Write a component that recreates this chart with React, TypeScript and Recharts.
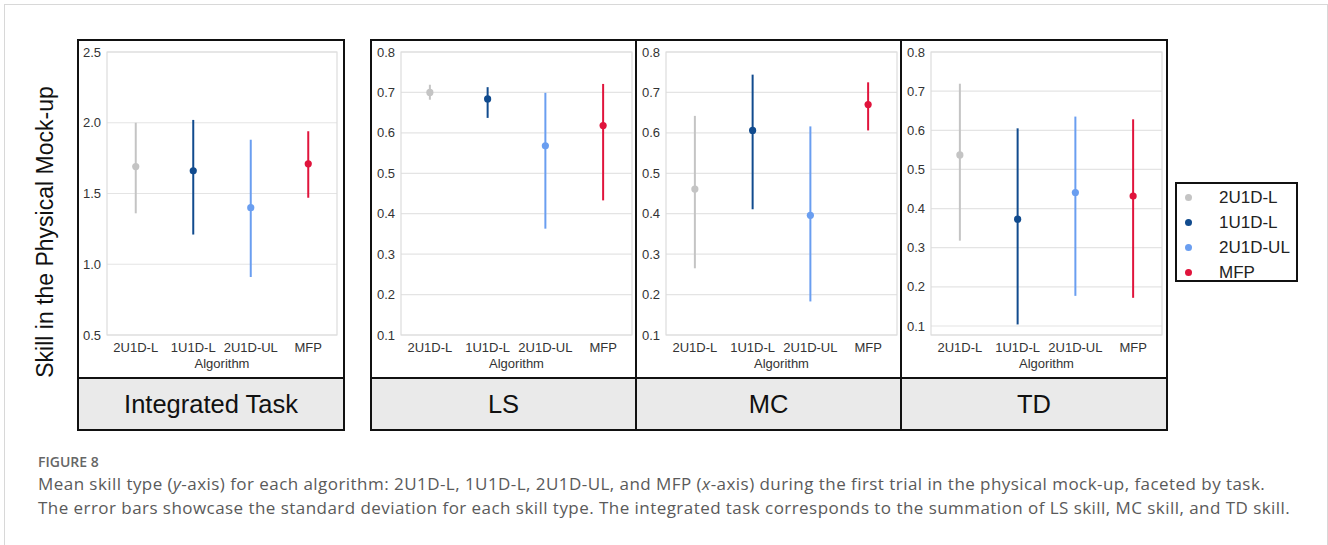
import { ComposedChart, Scatter, ErrorBar, XAxis, YAxis, CartesianGrid, ReferenceArea } from "recharts";

const algorithms = ["2U1D-L", "1U1D-L", "2U1D-UL", "MFP"];
const colors = ["#c4c4c4", "#114b8e", "#6a9ef0", "#e0143c"];

// Integrated task (sum of the three skills)
const integratedMean = [1.69, 1.66, 1.4, 1.71];
const integratedLow = [1.36, 1.21, 0.91, 1.47];
const integratedHigh = [2.0, 2.02, 1.88, 1.94];
const integratedTicks = [0.5, 1.0, 1.5, 2.0, 2.5];

// LS
const lsMean = [0.7, 0.684, 0.568, 0.618];
const lsLow = [0.682, 0.637, 0.363, 0.433];
const lsHigh = [0.719, 0.713, 0.699, 0.721];

// MC
const mcMean = [0.461, 0.606, 0.396, 0.67];
const mcLow = [0.265, 0.411, 0.183, 0.606];
const mcHigh = [0.642, 0.744, 0.616, 0.725];

// TD
const tdMean = [0.537, 0.373, 0.441, 0.432];
const tdLow = [0.318, 0.104, 0.177, 0.172];
const tdHigh = [0.719, 0.605, 0.635, 0.628];

const skillTicks = [0.1, 0.2, 0.3, 0.4, 0.5, 0.6, 0.7, 0.8];

const FONT = "'Liberation Sans', Arial, sans-serif";

interface FacetProps {
  mean: number[];
  low: number[];
  high: number[];
  domain: [number, number];
  ticks: number[];
  left: number;
  width: number;
  axisWidth: number;
  right: number;
}

function Facet({ mean, low, high, domain, ticks, left, width, axisWidth, right }: FacetProps) {
  return (
    <div style={{ position: "absolute", left, top: 40 }}>
      <ComposedChart width={width} height={338} margin={{ top: 12, right, bottom: 0, left: 0 }}>
        <CartesianGrid vertical={false} stroke="#e4e4e4" strokeWidth={1.2} />
        <ReferenceArea x1={-0.5} x2={3.5} y1={domain[0]} y2={domain[1]} fill="none" stroke="#dcdcdc" strokeWidth={1.2} />
        <XAxis
          type="number"
          dataKey="x"
          domain={[-0.5, 3.5]}
          ticks={[0, 1, 2, 3]}
          interval={0}
          tickFormatter={(v: number) => algorithms[v]}
          axisLine={false}
          tickLine={false}
          tickSize={5}
          tickMargin={3}
          height={43}
          tick={{ fontSize: 13, fill: "#333" }}
          label={{ value: "Algorithm", position: "insideBottom", offset: 10, fontSize: 13, fill: "#333" }}
        />
        <YAxis
          type="number"
          dataKey="y"
          domain={domain}
          ticks={ticks}
          interval={0}
          tickFormatter={(v: number) => v.toFixed(1)}
          axisLine={false}
          tickLine={false}
          tickSize={4}
          tickMargin={2}
          width={axisWidth}
          tick={{ fontSize: 13, fill: "#333" }}
        />
        {algorithms.map((a, i) => (
          <Scatter
            key={a}
            name={a}
            data={[{ x: i, y: mean[i], err: [mean[i] - low[i], high[i] - mean[i]] }]}
            fill={colors[i]}
            isAnimationActive={false}
            shape={(p: any) => <circle cx={p.cx} cy={p.cy} r={3.6} fill={colors[i]} />}
          >
            <ErrorBar dataKey="err" direction="y" width={0} stroke={colors[i]} strokeWidth={2} isAnimationActive={false} />
          </Scatter>
        ))}
      </ComposedChart>
    </div>
  );
}

const line = (s: React.CSSProperties): React.CSSProperties => ({ position: "absolute", background: "#111", ...s });

export default function App() {
  return (
    <div
      style={{
        position: "fixed",
        left: 0,
        top: 0,
        width: 1328,
        height: 545,
        overflow: "hidden",
        background: "#fff",
        fontFamily: FONT,
      }}
    >
      {/* outer figure frame */}
      <div style={{ position: "absolute", left: 4, top: 4, width: 1322, height: 600, border: "1px solid #d8d8d8" }} />

      {/* strips */}
      <div style={{ position: "absolute", left: 78, top: 378, width: 266, height: 52, background: "#eaeaea" }} />
      <div style={{ position: "absolute", left: 371, top: 378, width: 796, height: 52, background: "#eaeaea" }} />

      <Facet mean={integratedMean} low={integratedLow} high={integratedHigh} domain={[0.5, 2.5]} ticks={integratedTicks} left={78} width={266} axisWidth={29} right={7} />
      <Facet mean={lsMean} low={lsLow} high={lsHigh} domain={[0.1, 0.8]} ticks={skillTicks} left={371} width={265} axisWidth={30} right={4} />
      <Facet mean={mcMean} low={mcLow} high={mcHigh} domain={[0.1, 0.8]} ticks={skillTicks} left={636} width={265} axisWidth={30} right={4} />
      <Facet mean={tdMean} low={tdLow} high={tdHigh} domain={[0.077, 0.8]} ticks={skillTicks} left={901} width={266} axisWidth={30} right={5} />

      {/* panel borders */}
      <div style={{ position: "absolute", left: 77, top: 39, width: 264, height: 388, border: "2px solid #111" }} />
      <div style={line({ left: 77, top: 377, width: 268, height: 2 })} />
      <div style={{ position: "absolute", left: 370, top: 39, width: 794, height: 388, border: "2px solid #111" }} />
      <div style={line({ left: 370, top: 377, width: 798, height: 2 })} />
      <div style={line({ left: 635, top: 39, width: 2, height: 392 })} />
      <div style={line({ left: 900, top: 39, width: 2, height: 392 })} />

      {/* strip labels */}
      {[
        { t: "Integrated Task", l: 78, w: 266 },
        { t: "LS", l: 371, w: 265 },
        { t: "MC", l: 636, w: 265 },
        { t: "TD", l: 901, w: 266 },
      ].map((s) => (
        <div
          key={s.t}
          style={{
            position: "absolute",
            left: s.l,
            top: 378,
            width: s.w,
            height: 52,
            lineHeight: "52px",
            textAlign: "center",
            fontSize: 25.5,
            color: "#111",
          }}
        >
          {s.t}
        </div>
      ))}

      {/* y axis title */}
      <div
        style={{
          position: "absolute",
          left: 45,
          top: 232,
          transform: "translate(-50%, -50%) rotate(-90deg)",
          whiteSpace: "nowrap",
          fontSize: 23,
          color: "#111",
        }}
      >
        Skill in the Physical Mock-up
      </div>

      {/* legend */}
      <div style={{ position: "absolute", left: 1175, top: 182, width: 119, height: 96, border: "2px solid #111" }}>
        {algorithms.map((a, i) => (
          <div key={a} style={{ position: "absolute", left: 0, top: 2 + i * 25, height: 24, width: 119 }}>
            <div
              style={{
                position: "absolute",
                left: 8,
                top: 8,
                width: 7,
                height: 7,
                borderRadius: "50%",
                background: colors[i],
              }}
            />
            <div style={{ position: "absolute", left: 42, top: 0, lineHeight: "24px", fontSize: 17, color: "#222" }}>{a}</div>
          </div>
        ))}
      </div>

      {/* caption */}
      <div style={{ position: "absolute", left: 38, top: 451, fontFamily: "'Open Sans', sans-serif", color: "#5a5a5a" }}>
        <div style={{ fontSize: 14, fontWeight: 600, lineHeight: "21px", color: "#666" }}>FIGURE 8</div>
        <div style={{ fontSize: 17, lineHeight: "24px", letterSpacing: 0.45, whiteSpace: "nowrap" }}>
          Mean skill type (<i>y</i>-axis) for each algorithm: 2U1D-L, 1U1D-L, 2U1D-UL, and MFP (<i>x</i>-axis) during the first trial in
          the physical mock-up, faceted by task.
        </div>
        <div style={{ fontSize: 17, lineHeight: "24px", letterSpacing: 0.45, whiteSpace: "nowrap" }}>
          The error bars showcase the standard deviation for each skill type. The integrated task corresponds to the summation of LS
          skill, MC skill, and TD skill.
        </div>
      </div>
    </div>
  );
}
